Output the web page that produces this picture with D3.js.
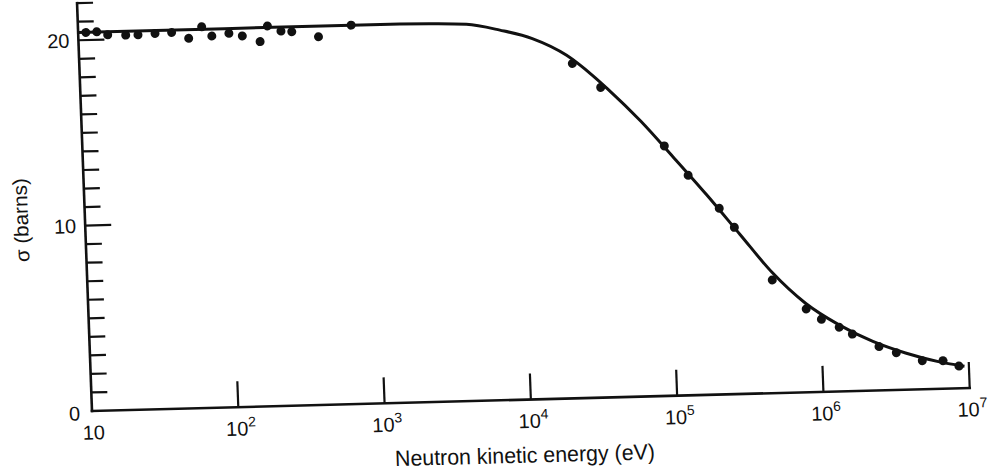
<!DOCTYPE html>
<html>
<head>
<meta charset="utf-8">
<script src="https://cdn.jsdelivr.net/npm/d3@7"></script>
<style>
  html, body { margin: 0; padding: 0; background: #fff; }
  svg { display: block; }
  text { font-family: "Liberation Sans", Arial, Helvetica, sans-serif; fill: #111; }
</style>
</head>
<body>
<svg id="chart" width="989" height="471"></svg>
<script>
// ---- data ----
const lowEnergy = [11.3, 13.4, 15.9, 21.1, 25.6, 33.5, 43.5, 56.7, 70, 81.7, 107, 132, 174, 197, 243, 288, 437, 735];
const lowSigma  = [20.41, 20.43, 20.25, 20.21, 20.21, 20.26, 20.29, 19.95, 20.55, 20.04, 20.16, 20.0, 19.67, 20.50, 20.21, 20.16, 19.85, 20.43];

const highEnergy = [2.33e4, 3.59e4, 9.44e4, 1.35e5, 2.16e5, 2.71e5, 4.77e5, 8.0e5, 1.01e6, 1.33e6, 1.63e6, 2.46e6, 3.22e6, 4.82e6, 6.68e6, 8.55e6];
const highSigma  = [18.05, 16.72, 13.48, 11.86, 10.04, 8.99, 6.10, 4.49, 3.91, 3.46, 3.07, 2.36, 2.01, 1.54, 1.51, 1.20];

const curveEnergy = [10, 100, 1e3, 2.5e3, 4.5e3, 7.6e3, 1.26e4, 2.14e4, 3.16e4, 3.98e4, 6.6e4, 1.07e5, 1.78e5, 2.95e5, 4.79e5, 7.94e5, 1.32e6, 2.24e6, 3.72e6, 6.31e6, 9.33e6];
const curveSigma  = [20.42, 20.42, 20.42, 20.39, 20.31, 19.95, 19.45, 18.5, 17.4, 16.65, 14.85, 12.9, 10.8, 8.6, 6.5, 4.8, 3.6, 2.65, 1.98, 1.45, 1.18];

const xTickValues = [10, 1e2, 1e3, 1e4, 1e5, 1e6, 1e7];
const xTickExponents = ["", "2", "3", "4", "5", "6", "7"];
const yTickValues = d3.range(1, 23);
const yLabelValues = [0, 10, 20];
const xTitle = "Neutron kinetic energy (eV)";
const yTitle = "σ (barns)";

// ---- layout ----
const W = 878, H = 408.1;
const svg = d3.select("#chart");
// the scanned figure is slightly rotated/sheared
const g = svg.append("g")
  .attr("transform", "matrix(0.99966,-0.02618,0.03664,0.99933,92,411)");

const x = d3.scaleLog().domain([10, 1e7]).range([0, W]);
const y = d3.scaleLinear().domain([0, 22]).range([0, -H]);

const ink = "#111";

// axes lines
g.append("line").attr("x1", 0).attr("y1", 0).attr("x2", W).attr("y2", 0)
  .attr("stroke", ink).attr("stroke-width", 2.6).attr("stroke-linecap", "square");
g.append("line").attr("x1", 0).attr("y1", 0).attr("x2", 0).attr("y2", y(22))
  .attr("stroke", ink).attr("stroke-width", 2.6).attr("stroke-linecap", "square");

// x ticks (pointing inward)
g.selectAll(".xt").data(xTickValues.slice(1)).enter().append("line")
  .attr("x1", d => x(d)).attr("x2", d => x(d))
  .attr("y1", 0).attr("y2", -26)
  .attr("stroke", ink).attr("stroke-width", 2.2);

// x tick labels
const xl = g.selectAll(".xl").data(xTickValues).enter().append("text")
  .attr("x", (d, i) => x(d) + (i === 0 ? 1 : 2))
  .attr("y", 28.5)
  .attr("text-anchor", "middle")
  .attr("font-size", 20);
xl.append("tspan").text("10");
xl.append("tspan").attr("font-size", 14).attr("dy", -9)
  .text((d, i) => xTickExponents[i]);

// y ticks
g.selectAll(".yt").data(yTickValues).enter().append("line")
  .attr("x1", 0).attr("x2", d => (d % 10 === 0 ? 26 : 16))
  .attr("y1", d => y(d)).attr("y2", d => y(d))
  .attr("stroke", ink).attr("stroke-width", 2.2);

// y tick labels
g.selectAll(".yl").data(yLabelValues).enter().append("text")
  .attr("x", d => (d === 0 ? -12 : -9))
  .attr("y", d => y(d) + (d === 0 ? 2 : 0))
  .attr("dy", "0.36em")
  .attr("text-anchor", "end")
  .attr("font-size", 20)
  .text(d => d);

// titles
g.append("text")
  .attr("x", 431).attr("y", 63)
  .attr("text-anchor", "middle")
  .attr("font-size", 22)
  .attr("textLength", 260).attr("lengthAdjust", "spacingAndGlyphs")
  .text(xTitle);

g.append("text")
  .attr("transform", "translate(-57,-192.5) rotate(-90)")
  .attr("text-anchor", "middle")
  .attr("font-size", 20)
  .attr("textLength", 84).attr("lengthAdjust", "spacingAndGlyphs")
  .text(yTitle);

// fitted curve
const curvePts = curveEnergy.map((e, i) => [e, curveSigma[i]]);
const line = d3.line()
  .x(d => x(d[0])).y(d => y(d[1]))
  .curve(d3.curveMonotoneX);
g.append("path").datum(curvePts)
  .attr("d", line)
  .attr("fill", "none").attr("stroke", ink).attr("stroke-width", 3);

// data points
const pts = lowEnergy.map((e, i) => [e, lowSigma[i]])
  .concat(highEnergy.map((e, i) => [e, highSigma[i]]));
g.selectAll(".pt").data(pts).enter().append("circle")
  .attr("cx", d => x(d[0])).attr("cy", d => y(d[1]))
  .attr("r", 4.5).attr("fill", ink);
</script>
</body>
</html>
